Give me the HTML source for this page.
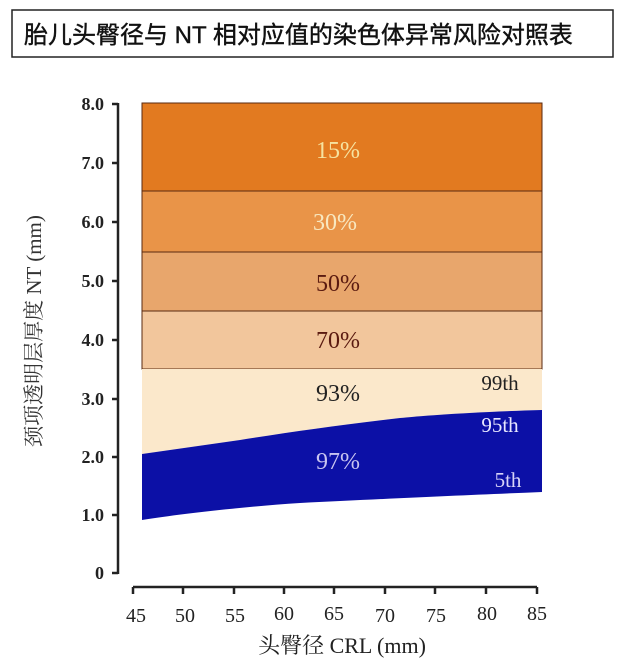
<!DOCTYPE html>
<html><head><meta charset="utf-8"><style>
body{margin:0;background:#fff;width:640px;height:664px;overflow:hidden}
</style></head><body>
<svg width="640" height="664" viewBox="0 0 640 664" xmlns="http://www.w3.org/2000/svg">
<rect x="12" y="10" width="601" height="47" fill="#fff" stroke="#222" stroke-width="1.5"/>
<text x="24" y="43" font-family="Liberation Sans, Noto Sans CJK SC, sans-serif" font-size="24" fill="#111" stroke="#111" stroke-width="0.4">胎儿头臀径与 NT 相对应值的染色体异常风险对照表</text>
<g font-family="Liberation Serif, serif">
<rect x="142" y="103" width="400" height="88" fill="#e27a20" stroke="#5a2a10" stroke-width="1"/>
<rect x="142" y="191" width="400" height="61" fill="#e99448" stroke="#5a2a10" stroke-width="1"/>
<rect x="142" y="252" width="400" height="59" fill="#e8a66c" stroke="#5a2a10" stroke-width="1"/>
<rect x="142" y="311" width="400" height="58" fill="#f2c69c" stroke="#5a2a10" stroke-width="1"/>
<path d="M142 369 H542 V410 C470 412 420 416 400 418 C340 425 290 432 240 440 L142 454 Z" fill="#fbe8cb"/>
<path d="M142 454 L240 440 C290 432 340 425 400 418 C420 416 470 412 542 410 V492 C470 495 400 498 300 503 C240 507 180 514 142 520 Z" fill="#0c10a6"/>
<g font-size="24" text-anchor="middle">
<text x="338" y="158" fill="#f6e3a0">15%</text>
<text x="335" y="230" fill="#f8e8c0">30%</text>
<text x="338" y="291" fill="#5a1a10">50%</text>
<text x="338" y="348" fill="#5a1a10">70%</text>
<text x="338" y="401" fill="#222">93%</text>
<text x="338" y="469" fill="#c8c4f0">97%</text>
</g>
<text x="500" y="390" font-size="21" fill="#222" text-anchor="middle">99th</text>
<text x="500" y="432" font-size="21" fill="#e8e8ff" text-anchor="middle">95th</text>
<text x="508" y="487" font-size="21" fill="#d8d4f8" text-anchor="middle">5th</text>
<g stroke="#222" stroke-width="2.5" fill="none">
<path d="M118 103 V574"/>
<path d="M112 104 H118 M112 163 H118 M112 222 H118 M112 281 H118 M112 340 H118 M112 399 H118 M112 457 H118 M112 515 H118 M112 573 H118"/>
<path d="M133 587 H537"/>
<path d="M133 587 V594 M183 587 V594 M234 587 V594 M284 587 V594 M334 587 V594 M385 587 V594 M435 587 V594 M486 587 V594 M537 587 V594"/>
</g>
<g font-size="18" fill="#222" text-anchor="end" font-weight="bold">
<text x="104" y="110">8.0</text><text x="104" y="169">7.0</text><text x="104" y="228">6.0</text><text x="104" y="287">5.0</text><text x="104" y="346">4.0</text><text x="104" y="405">3.0</text><text x="104" y="463">2.0</text><text x="104" y="521">1.0</text><text x="104" y="579">0</text>
</g>
<g font-size="20" fill="#222" text-anchor="middle">
<text x="136" y="622">45</text><text x="185" y="622">50</text><text x="235" y="622">55</text><text x="284" y="620">60</text><text x="334" y="620">65</text><text x="385" y="622">70</text><text x="436" y="622">75</text><text x="487" y="620">80</text><text x="537" y="620">85</text>
</g>
<text x="342" y="653" font-size="22" fill="#222" text-anchor="middle" font-family="Liberation Serif, Noto Serif CJK SC, serif">头臀径 CRL (mm)</text>
<text transform="translate(41,331) rotate(-90)" font-size="21" fill="#333" text-anchor="middle" font-family="Liberation Serif, Noto Serif CJK SC, serif">颈项透明层厚度 NT (mm)</text>
</g>
</svg>
</body></html>
